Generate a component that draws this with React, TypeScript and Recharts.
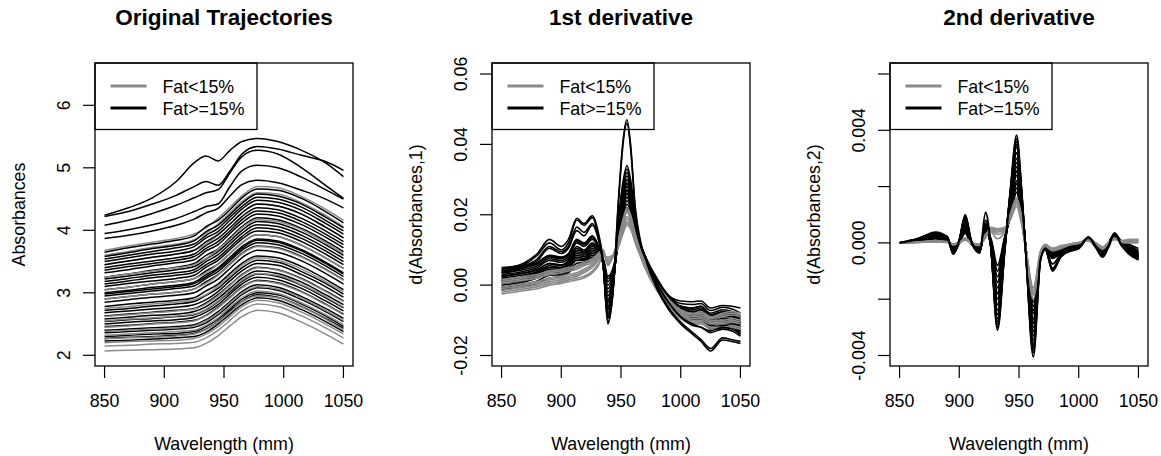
import React from "react";
import { LineChart, Line, XAxis, YAxis } from "recharts";

const FONT = '"Liberation Sans", Arial, Helvetica, sans-serif';
const GRAY = "#8a8a8a";
const BLACK = "#000000";

// ---- panel 1: absorbance spectra, read at these wavelengths (nm)
const wlAbs = [850, 870, 890, 910, 925, 935, 945, 955, 965, 978, 995, 1015, 1035, 1050];

const absG01 = [2.07, 2.08, 2.09, 2.1, 2.12, 2.19, 2.31, 2.47, 2.62, 2.72, 2.68, 2.53, 2.34, 2.18];
const absG02 = [2.15, 2.16, 2.18, 2.19, 2.21, 2.28, 2.4, 2.56, 2.72, 2.82, 2.78, 2.63, 2.44, 2.28];
const absG03 = [2.2, 2.22, 2.23, 2.24, 2.27, 2.34, 2.46, 2.62, 2.78, 2.88, 2.84, 2.69, 2.5, 2.34];
const absG04 = [2.26, 2.28, 2.29, 2.31, 2.34, 2.41, 2.53, 2.69, 2.85, 2.95, 2.92, 2.77, 2.58, 2.41];
const absG05 = [2.32, 2.34, 2.36, 2.38, 2.4, 2.48, 2.6, 2.77, 2.92, 3.03, 2.99, 2.84, 2.65, 2.49];
const absG06 = [2.38, 2.4, 2.42, 2.44, 2.47, 2.55, 2.67, 2.84, 2.99, 3.1, 3.06, 2.92, 2.72, 2.56];
const absG07 = [2.45, 2.47, 2.5, 2.52, 2.55, 2.63, 2.76, 2.92, 3.08, 3.19, 3.15, 3.01, 2.81, 2.65];
const absG08 = [2.55, 2.58, 2.6, 2.63, 2.66, 2.74, 2.87, 3.04, 3.2, 3.31, 3.28, 3.13, 2.94, 2.77];
const absG09 = [2.62, 2.65, 2.68, 2.71, 2.74, 2.82, 2.95, 3.12, 3.28, 3.4, 3.36, 3.22, 3.02, 2.86];
const absG10 = [2.75, 2.78, 2.82, 2.85, 2.89, 2.97, 3.11, 3.27, 3.44, 3.56, 3.52, 3.38, 3.18, 3.02];
const absG11 = [2.9, 2.94, 2.98, 3.01, 3.06, 3.15, 3.28, 3.45, 3.62, 3.74, 3.71, 3.57, 3.37, 3.2];
const absG12 = [3.05, 3.09, 3.14, 3.18, 3.23, 3.32, 3.46, 3.63, 3.8, 3.93, 3.9, 3.76, 3.56, 3.39];
const absG13 = [3.25, 3.3, 3.35, 3.4, 3.45, 3.55, 3.69, 3.86, 4.04, 4.17, 4.14, 4.01, 3.8, 3.63];
const absG14 = [3.45, 3.51, 3.57, 3.62, 3.68, 3.78, 3.93, 4.1, 4.28, 4.42, 4.39, 4.26, 4.05, 3.88];
const absG15 = [3.6, 3.66, 3.73, 3.78, 3.85, 3.95, 4.1, 4.28, 4.46, 4.6, 4.58, 4.44, 4.24, 4.06];
const absG16 = [3.68, 3.75, 3.81, 3.87, 3.94, 4.04, 4.19, 4.37, 4.55, 4.7, 4.68, 4.54, 4.34, 4.16];

const absB01 = [2.23, 2.24, 2.26, 2.28, 2.3, 2.37, 2.5, 2.66, 2.81, 2.92, 2.88, 2.73, 2.54, 2.38];
const absB02 = [2.3, 2.32, 2.34, 2.35, 2.38, 2.46, 2.58, 2.74, 2.9, 3.0, 2.97, 2.82, 2.63, 2.46];
const absB03 = [2.4, 2.42, 2.44, 2.46, 2.49, 2.57, 2.7, 2.86, 3.02, 3.13, 3.09, 2.94, 2.75, 2.59];
const absB04 = [2.5, 2.53, 2.55, 2.57, 2.61, 2.69, 2.81, 2.98, 3.14, 3.25, 3.21, 3.07, 2.87, 2.71];
const absB05 = [2.58, 2.61, 2.64, 2.66, 2.7, 2.78, 2.91, 3.07, 3.23, 3.35, 3.31, 3.17, 2.97, 2.81];
const absB06 = [2.68, 2.71, 2.74, 2.77, 2.81, 2.89, 3.02, 3.19, 3.35, 3.47, 3.44, 3.29, 3.1, 2.93];
const absB07 = [2.78, 2.82, 2.85, 2.88, 2.92, 3.03, 3.14, 3.31, 3.47, 3.59, 3.56, 3.42, 3.22, 3.05];
const absB08 = [2.85, 2.89, 2.93, 2.96, 3.0, 3.11, 3.22, 3.39, 3.56, 3.68, 3.65, 3.51, 3.31, 3.14];
const absB09 = [2.95, 2.99, 3.03, 3.07, 3.11, 3.23, 3.34, 3.51, 3.68, 3.8, 3.77, 3.63, 3.43, 3.26];
const absB10 = [3.0, 3.04, 3.09, 3.12, 3.17, 3.29, 3.4, 3.57, 3.74, 3.86, 3.83, 3.69, 3.49, 3.32];
const absB11 = [3.1, 3.15, 3.19, 3.23, 3.28, 3.41, 3.52, 3.69, 3.86, 3.99, 3.96, 3.82, 3.62, 3.45];
const absB12 = [3.18, 3.23, 3.28, 3.32, 3.37, 3.5, 3.61, 3.78, 3.95, 4.09, 4.06, 3.92, 3.72, 3.55];
const absB13 = [3.25, 3.3, 3.36, 3.41, 3.47, 3.6, 3.7, 3.88, 4.06, 4.2, 4.17, 4.03, 3.83, 3.66];
const absB14 = [3.32, 3.37, 3.43, 3.48, 3.53, 3.67, 3.77, 3.95, 4.12, 4.26, 4.23, 4.09, 3.89, 3.72];
const absB15 = [3.4, 3.46, 3.51, 3.56, 3.62, 3.76, 3.87, 4.04, 4.22, 4.36, 4.33, 4.19, 3.99, 3.82];
const absB16 = [3.5, 3.56, 3.62, 3.67, 3.74, 3.88, 3.98, 4.16, 4.34, 4.48, 4.45, 4.32, 4.11, 3.94];
const absB17 = [3.58, 3.64, 3.71, 3.76, 3.83, 3.98, 4.08, 4.25, 4.43, 4.58, 4.55, 4.42, 4.21, 4.04];
const absB18 = [3.65, 3.72, 3.78, 3.84, 3.91, 4.06, 4.16, 4.33, 4.52, 4.66, 4.64, 4.51, 4.3, 4.12];
const absB19 = [2.27, 2.29, 2.3, 2.32, 2.35, 2.42, 2.54, 2.71, 2.86, 2.97, 2.93, 2.78, 2.59, 2.43];
const absB20 = [2.36, 2.38, 2.4, 2.42, 2.45, 2.52, 2.65, 2.81, 2.97, 3.08, 3.04, 2.89, 2.7, 2.54];
const absB21 = [2.46, 2.48, 2.51, 2.53, 2.56, 2.64, 2.77, 2.93, 3.09, 3.2, 3.16, 3.02, 2.82, 2.66];
const absB22 = [2.54, 2.57, 2.59, 2.62, 2.65, 2.73, 2.86, 3.02, 3.18, 3.3, 3.26, 3.12, 2.92, 2.76];
const absB23 = [2.63, 2.66, 2.69, 2.72, 2.75, 2.84, 2.97, 3.13, 3.29, 3.41, 3.37, 3.23, 3.03, 2.87];
const absB24 = [2.72, 2.75, 2.79, 2.82, 2.86, 2.96, 3.07, 3.24, 3.4, 3.52, 3.49, 3.34, 3.15, 2.98];
const absB25 = [2.9, 2.94, 2.98, 3.01, 3.06, 3.18, 3.29, 3.46, 3.63, 3.75, 3.72, 3.58, 3.38, 3.21];
const absB26 = [3.05, 3.09, 3.14, 3.18, 3.23, 3.35, 3.46, 3.63, 3.8, 3.93, 3.9, 3.76, 3.56, 3.39];
const absB27 = [3.14, 3.19, 3.24, 3.28, 3.33, 3.45, 3.56, 3.73, 3.9, 4.04, 4.01, 3.87, 3.67, 3.5];
const absB28 = [3.22, 3.27, 3.32, 3.37, 3.42, 3.54, 3.66, 3.83, 4.0, 4.14, 4.11, 3.97, 3.77, 3.6];
const absB29 = [3.36, 3.42, 3.47, 3.52, 3.58, 3.71, 3.82, 3.99, 4.17, 4.31, 4.28, 4.14, 3.94, 3.77];
const absB30 = [3.45, 3.51, 3.57, 3.62, 3.68, 3.82, 3.93, 4.1, 4.28, 4.42, 4.39, 4.26, 4.05, 3.88];
const absB31 = [3.54, 3.6, 3.66, 3.72, 3.78, 3.92, 4.03, 4.21, 4.38, 4.53, 4.5, 4.37, 4.16, 3.99];
const absB32 = [2.98, 3.02, 3.06, 3.1, 3.15, 3.26, 3.38, 3.54, 3.71, 3.84, 3.81, 3.67, 3.47, 3.3];
const absT01 = [4.24, 4.36, 4.52, 4.78, 5.08, 5.19, 5.11, 5.28, 5.42, 5.47, 5.42, 5.28, 5.08, 4.86];
const absT02 = [4.22, 4.3, 4.42, 4.56, 4.7, 4.78, 4.72, 4.95, 5.22, 5.34, 5.3, 5.2, 5.1, 4.96];
const absT03 = [4.08, 4.16, 4.27, 4.4, 4.52, 4.6, 4.65, 4.92, 5.18, 5.28, 5.22, 5.0, 4.72, 4.51];
const absT04 = [3.95, 4.01, 4.09, 4.19, 4.3, 4.38, 4.42, 4.7, 4.95, 5.04, 5.0, 4.85, 4.65, 4.5];
const absT05 = [3.87, 3.92, 3.99, 4.08, 4.18, 4.28, 4.35, 4.55, 4.73, 4.8, 4.76, 4.64, 4.5, 4.36];

// ---- panel 2: first derivative, values in 1e-3 units
const wlD1 = [850, 870, 880, 890, 900, 906, 913, 919, 926, 931, 935, 939, 943, 948, 952, 955, 958, 962, 966, 970, 980, 990, 1000, 1010, 1017, 1025, 1035, 1043, 1050];

const d1H01 = [4.5, 6.5, 9, 13, 11, 13, 19, 17.5, 19.7, 15, 7, -11, -3, 25, 42, 47, 40, 22, 13, 8, -1, -7, -11, -14, -16, -18.7, -15.6, -16, -16.6];
const d1H02 = [4, 6, 8.5, 12, 10, 12, 18.5, 17, 19.2, 14, 6, -10.5, -3, 24, 41, 46, 39, 21, 12.5, 8, -0.5, -6.5, -10.5, -13.5, -15.5, -18, -15, -15.5, -16];
const d1H03 = [3.5, 5, 7, 10.5, 9, 10.5, 15.5, 14, 17, 13, 6, -9, -2, 18, 29, 33, 29, 19, 12, 8.5, 0.5, -5, -9, -11.5, -12, -13.5, -12.5, -13, -14.5];
const d1H04 = [5, 5.8, 6.5, 8.5, 8, 9, 13, 12, 14, 11, 6, -7, -1, 16, 26, 30, 27, 18, 11.5, 8, 1.5, -3, -6, -6.5, -6, -8, -7, -7.5, -9];
const d1H05 = [3, 4, 5, 7, 6.5, 7.5, 11, 10, 12, 10, 6, -5, 0, 15, 24, 28, 25, 17, 11, 7.5, 1, -3.5, -6.5, -7.5, -7, -9, -8, -8.5, -10];
const d1H06 = [2, 3, 3.8, 5.5, 5, 6, 9, 8.5, 10.5, 9, 6.5, -3, 1, 14, 22, 26, 23, 16, 10.5, 7, 0.5, -4, -7, -8, -7.5, -10, -9, -9, -11];
const d1H07 = [1, 2, 3, 4.5, 4.5, 5.5, 8, 7.5, 9.5, 8.5, 6.5, -1, 2, 13, 21, 24, 22, 15, 10, 6.5, 0, -4.5, -7.5, -9, -8.5, -11, -10, -10, -12];
const d1H08 = [0, 1, 2, 3.5, 3.5, 4.5, 7, 7, 8.5, 8, 7, 1, 3.5, 12, 19, 22, 20, 14, 9.5, 6, -0.5, -5, -8, -9.5, -9.5, -11.5, -11, -11, -13];
const d1H09 = [-1.3, -0.3, 0.5, 2, 2.5, 3.5, 5.5, 6, 7.5, 8, 7.5, 2.5, 4.5, 12, 18, 21, 19, 13.5, 9, 5.5, -1, -5.5, -8.5, -10, -10, -12.5, -12, -12, -14];
const d1H10 = [4, 5, 6, 8, 7.5, 8.5, 12.5, 11.5, 13.5, 11, 6, -8.5, -2, 17, 28, 32, 28, 18.5, 12, 8.5, 2, -3, -4.5, -4.7, -4.5, -6.5, -5.8, -6, -6.5];
const d1H11 = [2.5, 3.5, 4.5, 6, 5.5, 6.5, 10, 9.5, 11.5, 10, 6.5, -6, 0, 15, 25, 29, 26, 17, 11, 7.5, 1, -3.5, -6, -6.5, -6, -8.5, -7.5, -8, -9];
const d1H12 = [1.5, 2.5, 3.5, 5, 5, 6, 9.5, 9, 11, 9.5, 6.5, -4, 1, 14, 23, 27, 24, 16, 10.5, 7, 0.5, -4, -7, -7.5, -7, -9.5, -8.5, -8.5, -10.5];
const d1H13 = [4.5, 5.5, 6.2, 8.2, 7.8, 8.8, 12.8, 11.8, 13.8, 11, 6, -7.8, -1.5, 16.5, 27, 31, 27.5, 18, 11.8, 8.2, 1.8, -3, -5.2, -5.5, -5.2, -7.2, -6.3, -6.8, -8];
const d1H14 = [3.5, 4.5, 5.5, 7.5, 7, 8, 12, 11, 13, 10.5, 6, -6.5, -0.5, 15.5, 25, 29, 26, 17.5, 11.2, 7.8, 1.2, -3.2, -6.2, -7, -6.5, -8.7, -7.8, -8.2, -9.5];
const d1H15 = [2.5, 3.5, 4.2, 6.2, 5.8, 7, 10.5, 9.5, 11.5, 9.5, 6.2, -4.5, 0.5, 14.5, 23, 27, 24, 16.5, 10.8, 7.2, 0.8, -3.8, -6.8, -7.8, -7.2, -9.7, -8.7, -8.8, -10.8];
const d1H16 = [1.5, 2.5, 3.4, 5, 4.8, 5.8, 8.5, 8, 10, 8.8, 6.5, -2, 1.5, 13.5, 21.5, 25, 22.5, 15.5, 10.2, 6.8, 0.2, -4.2, -7.2, -8.5, -8, -10.5, -9.5, -9.5, -11.5];
const d1H17 = [0.5, 1.5, 2.5, 4, 4, 5, 7.5, 7.2, 9, 8.2, 6.8, 0, 2.8, 12.5, 20, 23, 21, 14.5, 9.8, 6.2, -0.2, -4.8, -7.8, -9.2, -9, -11.2, -10.5, -10.5, -12.5];
const d1H18 = [-0.7, 0.3, 1.2, 2.8, 3, 4, 6.2, 6.5, 8, 8, 7.2, 1.8, 4, 12, 18.5, 21.5, 19.5, 13.8, 9.2, 5.8, -0.8, -5.2, -8.2, -9.8, -9.8, -12, -11.5, -11.5, -13.5];
const d1H19 = [3.8, 5.5, 7.5, 11, 9.5, 11, 16.5, 15, 17.5, 13.5, 6, -9.5, -2.5, 19, 30, 34, 30, 19.5, 12, 8.5, 0.5, -5, -9, -11, -12, -13, -12, -12.5, -14];
const d1L01 = [-2.5, -1.5, -1, 0, 0.5, 1, 1.5, 2, 3.5, 5.5, 8.5, 7.5, 8, 11, 15, 17, 16, 12, 8.5, 5, -1.5, -6, -9, -10.5, -10.5, -12, -12, -11.5, -12];
const d1L02 = [-1.5, -0.5, 0, 1, 1.5, 2, 2.5, 3.5, 5, 7, 9, 7, 8, 12, 16, 18, 17, 12.5, 9, 5.5, -1, -5.5, -8.5, -10, -10, -11, -11, -10.5, -11];
const d1L03 = [-0.5, 0.5, 1, 2, 2.5, 3, 3.5, 4.5, 6, 8, 9.5, 6.5, 8, 12.5, 17, 19.5, 18, 13, 9, 6, -0.5, -5, -8, -9, -9, -10, -10, -9.5, -10];
const d1L04 = [0.5, 1.5, 2, 3, 3.5, 4, 4.5, 5.5, 6.5, 8.5, 10, 6, 8, 13, 18, 21, 19, 14, 9.5, 6.5, 0, -4.5, -7.5, -8.5, -8.5, -9.5, -9, -8.5, -9];
const d1L05 = [1.5, 2.5, 3, 4, 4.5, 5, 5.5, 6.5, 7.5, 9, 10, 5.5, 8, 13.5, 19, 22, 20, 14.5, 10, 7, 0.5, -4, -7, -8, -7.5, -9, -8, -7.5, -8];
const d1L06 = [-2, -1, -0.5, 0.5, 1, 1.5, 2, 2.5, 4, 6, 8, 8, 8.5, 11, 15.5, 17.5, 16.5, 12, 8.5, 5, -1.5, -6, -9.5, -11, -11, -12.5, -12.5, -12, -12.5];
const d1L07 = [-1, 0, 0.5, 1.5, 2, 2.5, 3, 4, 5.5, 7.5, 9.2, 6.8, 8, 12.2, 16.5, 18.8, 17.5, 12.8, 9, 5.8, -0.8, -5.2, -8.2, -9.5, -9.5, -10.5, -10.5, -10, -10.5];
const d1L08 = [1, 2, 2.5, 3.5, 4, 4.5, 5, 6, 7, 8.8, 10, 5.8, 8, 13.2, 18.5, 21.5, 19.5, 14.2, 9.8, 6.8, 0.2, -4.2, -7.2, -8.2, -8, -9.2, -8.5, -8, -8.5];

// ---- panel 3: second derivative, values in 1e-3 units
const wlD2 = [850, 865, 880, 890, 895, 900, 905, 910, 917, 922, 926, 932, 938, 943, 948, 952, 956, 962, 968, 972, 978, 985, 992, 1000, 1008, 1014, 1020, 1025, 1030, 1036, 1042, 1050];

const d2H01 = [0, 0.15, 0.35, 0.2, -0.4, 0.1, 1.0, 0.1, -0.35, 1.08, 0.1, -3.1, -0.3, 2.0, 3.83, 2.0, -0.6, -4.05, -0.6, -0.2, -1.0, -0.5, -0.3, -0.2, 0.2, -0.1, -0.45, -0.1, 0.35, -0.1, -0.3, -0.55];
const d2H02 = [0, 0.12, 0.3, 0.2, -0.35, 0.1, 0.95, 0.05, -0.35, 0.8, 0.1, -3.0, -0.3, 1.9, 3.7, 1.9, -0.6, -3.9, -0.6, -0.25, -0.95, -0.5, -0.25, -0.15, 0.18, -0.1, -0.5, -0.1, 0.3, -0.1, -0.35, -0.6];
const d2H03 = [0, 0.12, 0.3, 0.15, -0.3, 0.05, 0.85, 0.05, -0.3, 0.6, 0, -2.7, -0.2, 1.8, 3.4, 1.8, -0.5, -3.6, -0.5, -0.2, -0.55, -0.4, -0.25, -0.15, 0.2, -0.05, -0.45, -0.05, 0.35, 0, -0.2, -0.5];
const d2H04 = [0, 0.1, 0.28, 0.12, -0.3, 0, 0.75, 0, -0.3, 0.5, 0, -2.4, -0.1, 1.6, 3.0, 1.6, -0.4, -3.3, -0.5, -0.2, -0.5, -0.35, -0.2, -0.1, 0.15, -0.1, -0.4, -0.05, 0.3, 0, -0.25, -0.45];
const d2H05 = [0, 0.1, 0.25, 0.1, -0.25, 0, 0.65, 0, -0.25, 0.45, 0.05, -2.0, 0, 1.4, 2.7, 1.4, -0.3, -3.0, -0.45, -0.15, -0.45, -0.3, -0.2, -0.1, 0.15, -0.05, -0.35, 0, 0.3, 0.05, -0.15, -0.4];
const d2H06 = [0, 0.08, 0.22, 0.1, -0.2, 0, 0.55, 0, -0.2, 0.4, 0.1, -1.6, 0.05, 1.25, 2.4, 1.2, -0.3, -2.7, -0.4, -0.15, -0.4, -0.3, -0.15, -0.05, 0.15, -0.05, -0.3, 0, 0.25, 0.05, -0.1, -0.3];
const d2H07 = [0, 0.06, 0.18, 0.08, -0.15, 0, 0.45, 0, -0.15, 0.35, 0.15, -1.2, 0.1, 1.1, 2.1, 1.0, -0.3, -2.4, -0.4, -0.1, -0.35, -0.25, -0.15, -0.05, 0.1, -0.1, -0.3, 0, 0.2, 0, -0.15, -0.35];
const d2H08 = [0, 0.05, 0.15, 0.05, -0.12, 0, 0.35, -0.05, -0.12, 0.3, 0.2, -0.8, 0.2, 0.95, 1.8, 0.9, -0.3, -2.1, -0.35, -0.1, -0.3, -0.25, -0.1, 0, 0.1, -0.05, -0.25, 0, 0.2, 0.05, -0.05, -0.2];
const d2H09 = [0, 0.14, 0.38, 0.22, -0.4, 0.1, 0.9, 0.05, -0.35, 0.7, 0.05, -2.9, -0.25, 1.9, 3.6, 1.9, -0.5, -3.8, -0.55, -0.25, -0.9, -0.45, -0.3, -0.2, 0.15, -0.15, -0.5, -0.15, 0.3, -0.1, -0.4, -0.6];
const d2H10 = [0, 0.07, 0.2, 0.1, -0.2, 0.05, 0.5, 0, -0.2, 0.4, 0.1, -1.4, 0.05, 1.2, 2.2, 1.1, -0.35, -2.5, -0.4, -0.15, -0.4, -0.3, -0.15, -0.05, 0.12, -0.05, -0.3, 0, 0.25, 0, -0.2, -0.4];
const d2H11 = [0, 0.09, 0.24, 0.12, -0.25, 0.02, 0.7, 0, -0.22, 0.45, 0.05, -1.8, 0, 1.3, 2.55, 1.3, -0.3, -2.85, -0.42, -0.15, -0.42, -0.3, -0.18, -0.08, 0.12, -0.08, -0.33, -0.02, 0.28, 0.02, -0.18, -0.45];
const d2H12 = [0, 0.11, 0.3, 0.15, -0.3, 0.03, 0.8, 0.02, -0.28, 0.55, 0, -2.2, -0.05, 1.5, 2.85, 1.5, -0.35, -3.15, -0.48, -0.18, -0.48, -0.33, -0.2, -0.1, 0.16, -0.06, -0.38, -0.04, 0.3, 0, -0.22, -0.5];
const d2H13 = [0, 0.11, 0.29, 0.14, -0.3, 0.02, 0.8, 0.02, -0.3, 0.55, 0, -2.55, -0.15, 1.7, 3.2, 1.7, -0.45, -3.45, -0.5, -0.2, -0.52, -0.38, -0.22, -0.12, 0.18, -0.08, -0.42, -0.05, 0.32, 0, -0.22, -0.48];
const d2H14 = [0, 0.09, 0.23, 0.1, -0.22, 0, 0.6, 0, -0.22, 0.42, 0.08, -1.8, 0.02, 1.32, 2.55, 1.3, -0.3, -2.85, -0.42, -0.15, -0.42, -0.3, -0.17, -0.07, 0.15, -0.05, -0.32, 0, 0.27, 0.05, -0.12, -0.35];
const d2H15 = [0, 0.06, 0.16, 0.06, -0.14, 0, 0.4, -0.02, -0.14, 0.32, 0.18, -1.0, 0.15, 1.0, 1.95, 0.95, -0.3, -2.25, -0.38, -0.1, -0.32, -0.25, -0.12, -0.02, 0.1, -0.08, -0.28, 0, 0.2, 0.02, -0.1, -0.28];
const d2H16 = [0, 0.13, 0.34, 0.18, -0.36, 0.08, 0.92, 0.05, -0.32, 0.65, 0.02, -2.8, -0.22, 1.85, 3.5, 1.85, -0.5, -3.7, -0.55, -0.22, -0.75, -0.42, -0.28, -0.18, 0.18, -0.12, -0.48, -0.12, 0.32, -0.05, -0.35, -0.55];
const d2L01 = [0, 0.02, 0.05, 0.03, -0.05, 0, 0.12, 0, -0.05, 0.2, 0.5, 0.45, 0.5, 0.9, 1.4, 0.8, -0.3, -1.7, -0.35, -0.1, -0.2, -0.15, -0.05, 0, 0.08, 0, -0.15, 0, 0.15, 0.05, 0.1, 0.1];
const d2L02 = [0, 0.03, 0.06, 0.03, -0.06, 0, 0.15, 0, -0.08, 0.25, 0.45, 0.3, 0.45, 1.0, 1.55, 0.9, -0.3, -1.85, -0.35, -0.1, -0.25, -0.15, -0.05, 0, 0.1, 0, -0.2, 0, 0.15, 0.05, 0.05, 0.05];
const d2L03 = [0, 0.02, 0.04, 0.02, -0.04, 0, 0.1, 0, -0.05, 0.2, 0.55, 0.5, 0.55, 0.85, 1.3, 0.7, -0.3, -1.6, -0.3, -0.05, -0.2, -0.1, -0.05, 0.02, 0.08, 0, -0.15, 0.02, 0.12, 0.08, 0.12, 0.12];
const d2L04 = [0, 0.03, 0.07, 0.04, -0.07, 0, 0.18, 0, -0.1, 0.3, 0.4, 0.15, 0.4, 1.05, 1.6, 0.95, -0.3, -2.0, -0.4, -0.12, -0.28, -0.2, -0.08, -0.02, 0.1, -0.02, -0.22, -0.02, 0.18, 0.02, 0, 0];
const d2L05 = [0, 0.02, 0.05, 0.03, -0.05, 0, 0.14, 0, -0.06, 0.22, 0.48, 0.38, 0.48, 0.95, 1.48, 0.85, -0.3, -1.78, -0.35, -0.1, -0.22, -0.15, -0.05, 0, 0.09, 0, -0.18, 0, 0.15, 0.05, 0.08, 0.08];

const xTicks = [850, 900, 950, 1000, 1050];
const absTicks = [2, 3, 4, 5, 6];
const d1Ticks = [-0.02, 0, 0.02, 0.04, 0.06];
const d2Ticks = [-0.004, -0.002, 0, 0.002, 0.004, 0.006];

type Series = { key: string; low: boolean; values: number[] };

const hi = (key: string, values: number[]): Series => ({ key, low: false, values });
const lo = (key: string, values: number[]): Series => ({ key, low: true, values });

// drawing order follows these lists
const absSeries: Series[] = [
  hi("b01", absB01), lo("g01", absG01), hi("b19", absB19), hi("b02", absB02), lo("g02", absG02),
  lo("g03", absG03), hi("b20", absB20), hi("b03", absB03), lo("g04", absG04), hi("b21", absB21),
  hi("b04", absB04), lo("g05", absG05), hi("b22", absB22), hi("b05", absB05), lo("g06", absG06),
  hi("b23", absB23), hi("b06", absB06), lo("g07", absG07), hi("b24", absB24), hi("b07", absB07),
  lo("g08", absG08), hi("b08", absB08), hi("b25", absB25), lo("g09", absG09), hi("b09", absB09),
  hi("b32", absB32), lo("g10", absG10), hi("b10", absB10), hi("b26", absB26), lo("g11", absG11),
  hi("b11", absB11), hi("b27", absB27), lo("g12", absG12), hi("b12", absB12), hi("b28", absB28),
  hi("b13", absB13), lo("g13", absG13), hi("b14", absB14), hi("b29", absB29), hi("b15", absB15),
  lo("g14", absG14), hi("b30", absB30), hi("b16", absB16), hi("b31", absB31), lo("g15", absG15),
  hi("b17", absB17), lo("g16", absG16), hi("b18", absB18),
  hi("t05", absT05), hi("t04", absT04), hi("t03", absT03), hi("t02", absT02), hi("t01", absT01),
];

const d1Series: Series[] = [
  hi("h04", d1H04), hi("h13", d1H13), hi("h10", d1H10), hi("h14", d1H14), hi("h05", d1H05),
  hi("h11", d1H11), hi("h15", d1H15), hi("h06", d1H06), hi("h12", d1H12), hi("h16", d1H16),
  hi("h07", d1H07), hi("h17", d1H17), hi("h08", d1H08), hi("h18", d1H18), hi("h09", d1H09),
  lo("l01", d1L01), lo("l06", d1L06), lo("l02", d1L02), lo("l07", d1L07), lo("l03", d1L03),
  lo("l04", d1L04), lo("l08", d1L08), lo("l05", d1L05),
  hi("h19", d1H19), hi("h03", d1H03), hi("h02", d1H02), hi("h01", d1H01),
];

const d2Series: Series[] = [
  hi("h08", d2H08), hi("h15", d2H15), hi("h07", d2H07), hi("h06", d2H06), hi("h10", d2H10),
  hi("h05", d2H05), hi("h14", d2H14), hi("h11", d2H11), hi("h04", d2H04), hi("h12", d2H12),
  hi("h13", d2H13), hi("h03", d2H03), hi("h16", d2H16), hi("h09", d2H09),
  lo("l04", d2L04), lo("l02", d2L02), lo("l05", d2L05), lo("l01", d2L01), lo("l03", d2L03),
  hi("h02", d2H02), hi("h01", d2H01),
];

function buildRows(wl: number[], series: Series[], unit: number) {
  return wl.map((w, i) => {
    const row: Record<string, number> = { wl: w };
    series.forEach((s) => {
      row[s.key] = s.values[i] * unit;
    });
    return row;
  });
}

const absRows = buildRows(wlAbs, absSeries, 1);
const d1Rows = buildRows(wlD1, d1Series, 0.001);
const d2Rows = buildRows(wlD2, d2Series, 0.001);

// plot box inside each chart (chart coordinates)
const PL = 95;
const PT = 63;
const PW = 258;
const PH = 303;
const FS = 17.8;

const fmtAbs = (v: number) => String(v);
const fmtD1 = (v: number) => v.toFixed(2);
const fmtD2 = (v: number) =>
  Math.abs(v) < 1e-9 || Math.abs(Math.abs(v) - 0.004) < 1e-9 ? v.toFixed(3) : "";

function XTick(props: any) {
  const { x, payload } = props;
  return (
    <text x={x} y={PT + PH + 41} textAnchor="middle" fontSize={FS} fontFamily={FONT} fill="#000">
      {payload.value}
    </text>
  );
}

interface PanelProps {
  left: number;
  width: number;
  title: string;
  yLabel: string;
  rows: Record<string, number>[];
  series: Series[];
  yDomain: [number, number];
  yTicks: number[];
  yFmt: (v: number) => string;
  lineWidth: number;
}

function Panel({ left, width, title, yLabel, rows, series, yDomain, yTicks, yFmt, lineWidth }: PanelProps) {
  const cx = PL + PW / 2;
  return (
    <div style={{ position: "absolute", left, top: 0, width, height: 456 }}>
      <LineChart
        width={width}
        height={456}
        data={rows}
        margin={{ top: PT, right: width - PL - PW, bottom: 50, left: 35 }}>
        <XAxis
          dataKey="wl"
          type="number"
          domain={[842, 1058]}
          ticks={xTicks}
          interval={0}
          allowDataOverflow
          axisLine={false}
          tickLine={{ stroke: "#000", strokeWidth: 1.2 }}
          tickSize={12}
          height={40}
          tick={XTick}
        />
        <YAxis
          type="number"
          domain={yDomain}
          ticks={yTicks}
          interval={0}
          allowDataOverflow
          axisLine={false}
          tickLine={{ stroke: "#000", strokeWidth: 1.2 }}
          tickSize={12}
          width={60}
          tick={(p: any) => (
            <text
              transform={`translate(${PL - 25}, ${p.y}) rotate(-90)`}
              textAnchor="middle"
              fontSize={FS}
              fontFamily={FONT}
              fill="#000">
              {yFmt(p.payload.value)}
            </text>
          )}
        />
        {series.map((s) => (
          <Line
            key={s.key}
            dataKey={s.key}
            type="monotone"
            stroke={s.low ? GRAY : BLACK}
            strokeWidth={lineWidth}
            dot={false}
            activeDot={false}
            isAnimationActive={false}
          />
        ))}
      </LineChart>
      <svg
        width={width}
        height={456}
        style={{ position: "absolute", left: 0, top: 0, pointerEvents: "none" }}
        fontFamily={FONT}>
        <rect x={PL} y={PT} width={PW} height={PH} fill="none" stroke="#000" strokeWidth={1.3} />
        <rect x={PL} y={PT} width={162} height={66.5} fill="none" stroke="#000" strokeWidth={1.3} />
        <line x1={PL + 15.5} x2={PL + 51.5} y1={86} y2={86} stroke={GRAY} strokeWidth={3} />
        <line x1={PL + 15.5} x2={PL + 51.5} y1={108} y2={108} stroke={BLACK} strokeWidth={3} />
        <text x={PL + 67.5} y={92.5} fontSize={FS}>Fat&lt;15%</text>
        <text x={PL + 67.5} y={114.8} fontSize={FS}>Fat&gt;=15%</text>
        <text x={cx} y={25} textAnchor="middle" fontSize={22.5} fontWeight="bold">
          {title}
        </text>
        <text x={cx} y={449.5} textAnchor="middle" fontSize={FS}>
          Wavelength (mm)
        </text>
        <text
          transform={`translate(${PL - 70}, ${PT + PH / 2}) rotate(-90)`}
          textAnchor="middle"
          fontSize={FS}>
          {yLabel}
        </text>
      </svg>
    </div>
  );
}

export default function App() {
  return (
    <div
      style={{
        position: "absolute",
        left: 0,
        top: 0,
        width: 1161,
        height: 456,
        overflow: "hidden",
        background: "#fff",
      }}>
      <Panel
        left={0}
        width={387}
        title="Original Trajectories"
        yLabel="Absorbances"
        rows={absRows}
        series={absSeries}
        yDomain={[1.829, 6.677]}
        yTicks={absTicks}
        yFmt={fmtAbs}
        lineWidth={1.5}
      />
      <Panel
        left={397}
        width={387}
        title="1st derivative"
        yLabel="d(Absorbances,1)"
        rows={d1Rows}
        series={d1Series}
        yDomain={[-0.02298, 0.06313]}
        yTicks={d1Ticks}
        yFmt={fmtD1}
        lineWidth={1.6}
      />
      <Panel
        left={794.5}
        width={366.5}
        title="2nd derivative"
        yLabel="d(Absorbances,2)"
        rows={d2Rows}
        series={d2Series}
        yDomain={[-0.004373, 0.00639]}
        yTicks={d2Ticks}
        yFmt={fmtD2}
        lineWidth={1.8}
      />
    </div>
  );
}
